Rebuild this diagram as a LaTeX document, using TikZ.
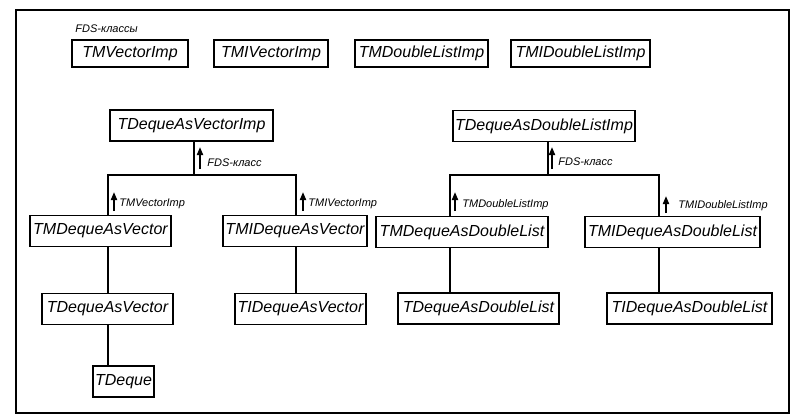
\documentclass[tikz,border=0pt]{standalone}
\usepackage{fontspec}
\setmainfont{Liberation Sans}
\usetikzlibrary{arrows.meta}
\tikzset{
  cls/.style={draw, line width=0.8pt, font=\itshape\fontsize{8}{9}\selectfont,
    inner sep=0pt, minimum height=15.5pt},
  toprow/.style={cls, minimum height=13.5pt},
  note/.style={font=\itshape\fontsize{5.5}{6}\selectfont, anchor=west, inner sep=0pt},
  link/.style={line width=0.7pt},
  uparrow/.style={-{Triangle[length=4pt,width=3pt]}, line width=0.9pt},
}
\begin{document}
\begin{tikzpicture}[x=0.5pt,y=-0.5pt]
\useasboundingbox (0,0) rectangle (800,419);
% frame
\draw[line width=0.8pt] (16,10) rectangle (789,413);

% FDS classes
\node[note] (fdsnote) at (75,29) {FDS-классы};
\node[toprow, minimum width=58pt] (tmvi) at (130,53.5) {TMVectorImp};
\node[toprow, minimum width=57pt] (tmivi) at (271,53.5) {TMIVectorImp};
\node[toprow, minimum width=66.5pt] (tmdli) at (421.5,53.5) {TMDoubleListImp};
\node[toprow, minimum width=69.5pt] (tmidli) at (580.5,53.5) {TMIDoubleListImp};

% vector branch
\node[cls, minimum width=81.5pt] (vimp) at (191.5,125.5) {TDequeAsVectorImp};
\node[cls, minimum width=70.5pt] (tmdv) at (100.5,231) {TMDequeAsVector};
\node[cls, minimum width=72pt] (tmidv) at (295,231) {TMIDequeAsVector};
\node[cls, minimum width=65.5pt] (tdv) at (107.5,309) {TDequeAsVector};
\node[cls, minimum width=65.5pt] (tidv) at (300.5,309) {TIDequeAsVector};
\node[cls, minimum width=30.5pt] (tdeque) at (123.5,381.5) {TDeque};

\coordinate (vbc) at (194,175);
\coordinate (vbl) at (108,175);
\coordinate (vbr) at (296,175);
\draw[link] (vimp.south -| vbc) -- (vbc);
\draw[link] (tmdv.north -| vbl) -- (vbl) -- (vbr) -- (tmidv.north -| vbr);
\draw[link] (tmdv.south -| vbl) -- (tdv.north -| vbl);
\draw[link] (tdv.south -| vbl) -- (tdeque.north -| vbl);
\draw[link] (tmidv.south -| vbr) -- (tidv.north -| vbr);

% arrows with labels
\draw[uparrow] (200,169) -- (200,147);
\node[note] (vfds) at (207,163) {FDS-класс};
\draw[uparrow] (114,211) -- (114,192);
\node[note] (vml) at (119,204) {TMVectorImp};
\draw[uparrow] (303,211) -- (303,192);
\node[note] (vmil) at (308,204) {TMIVectorImp};

% double list branch
\node[cls, minimum width=91pt] (dimp) at (544,126) {TDequeAsDoubleListImp};
\node[cls, minimum width=86pt] (tmddl) at (462,232) {TMDequeAsDoubleList};
\node[cls, minimum width=87.5pt] (tmiddl) at (672.5,232) {TMIDequeAsDoubleList};
\node[cls, minimum width=80.5pt] (tddl) at (478.5,308.5) {TDequeAsDoubleList};
\node[cls, minimum width=82.5pt] (tiddl) at (689.5,308.5) {TIDequeAsDoubleList};

\coordinate (dbc) at (548,175);
\coordinate (dbl) at (450,175);
\coordinate (dbr) at (659,175);
\draw[link] (dimp.south -| dbc) -- (dbc);
\draw[link] (tmddl.north -| dbl) -- (dbl) -- (dbr) -- (tmiddl.north -| dbr);
\draw[link] (tmddl.south -| dbl) -- (tddl.north -| dbl);
\draw[link] (tmiddl.south -| dbr) -- (tiddl.north -| dbr);

% arrows with labels
\draw[uparrow] (552,169) -- (552,147);
\node[note] (dfds) at (558,162) {FDS-класс};
\draw[uparrow] (455,211) -- (455,192);
\node[note] (dml) at (462,205) {TMDoubleListImp};
\draw[uparrow] (666,213) -- (666,196);
\node[note] (dmil) at (678,206) {TMIDoubleListImp};
\end{tikzpicture}
\end{document}
